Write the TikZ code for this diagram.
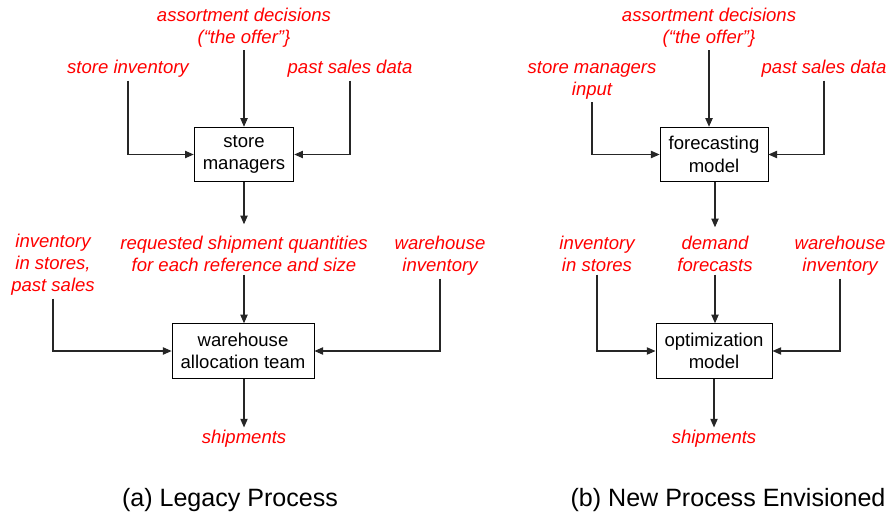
\documentclass[tikz,border=0pt]{standalone}
\usepackage{fontspec}
\setmainfont{Liberation Sans}
\usetikzlibrary{arrows.meta,positioning,calc}
\definecolor{inputred}{RGB}{255,0,0}

\begin{document}
\begin{tikzpicture}[x=0.75pt,y=-0.75pt,
    box/.style={draw,line width=0.6pt,rectangle,align=center,minimum height=41pt,inner xsep=6.5pt,font=\fontsize{13.9}{17}\selectfont},
    lbl/.style={text=inputred,align=center,inner sep=2pt,font=\fontsize{13.9}{16.5}\selectfont\itshape},
    flow/.style={draw=black!85,line width=0.8pt,-{Triangle[length=6.5pt,width=5.5pt]}},
    caption/.style={font=\fontsize{18.8}{21}\selectfont}]

  \useasboundingbox (0,0) rectangle (887,521);

  % (a) legacy process
  \node [box] at (244,154.5) (mgr_a) {store\\managers};
  \node [box] at (243,351) (alloc_a) {warehouse\\allocation team};

  \node [lbl] at (244,27.5) (offer_a) {assortment decisions\\(“the offer”\}};
  \node [lbl] at (128,69) (stinv_a) {store inventory};
  \node [lbl] at (350,69) (sales_a) {past sales data};
  \node [lbl] at (244,254) (req_a) {requested shipment quantities\\for each reference and size};
  \node [lbl] at (53,265) (past_a) {inventory\\in stores,\\past sales};
  \node [lbl] at (440,256) (whinv_a) {warehouse\\inventory};
  \node [lbl] at (244,439) (ship_a) {shipments};

  \draw [flow] (offer_a.south) -- (offer_a.south |- mgr_a.north);
  \draw [flow] (stinv_a.south) |- (mgr_a.west);
  \draw [flow] (sales_a.south) |- (mgr_a.east);
  \draw [flow] (mgr_a.south) -- ($(req_a.north)+(0,-9)$);
  \draw [flow] (req_a.south) -- (req_a.south |- alloc_a.north);
  \draw [flow] (past_a.south) |- (alloc_a.west);
  \draw [flow] (whinv_a.south) |- (alloc_a.east);
  \draw [flow] (alloc_a.south -| ship_a) -- (ship_a.north);

  % (b) new process
  \node [box] at (714,154.5) (fcst_b) {forecasting\\model};
  \node [box] at (714,351) (opt_b) {optimization\\model};

  \node [lbl] at (709,27.5) (offer_b) {assortment decisions\\(“the offer”\}};
  \node [lbl] at (592,80.5) (mgrin_b) {store managers\\input};
  \node [lbl] at (824,69) (sales_b) {past sales data};
  \node [lbl] at (715,254) (dem_b) {demand\\forecasts};
  \node [lbl] at (597,254) (stinv_b) {inventory\\in stores};
  \node [lbl] at (840,256) (whinv_b) {warehouse\\inventory};
  \node [lbl] at (714,439) (ship_b) {shipments};

  \draw [flow] (offer_b.south) -- (offer_b.south |- fcst_b.north);
  \draw [flow] (mgrin_b.south) |- (fcst_b.west);
  \draw [flow] (sales_b.south) |- (fcst_b.east);
  \draw [flow] (fcst_b.south -| dem_b) -- ($(dem_b.north)+(0,-6)$);
  \draw [flow] (dem_b.south) -- (dem_b.south |- opt_b.north);
  \draw [flow] (stinv_b.south) |- (opt_b.west);
  \draw [flow] (whinv_b.south) |- (opt_b.east);
  \draw [flow] (opt_b.south) -- (ship_b.north);

  \node [caption] at (230,500) (cap_a) {(a) Legacy Process};
  \node [caption] at (728,500) (cap_b) {(b) New Process Envisioned};

\end{tikzpicture}
\end{document}
